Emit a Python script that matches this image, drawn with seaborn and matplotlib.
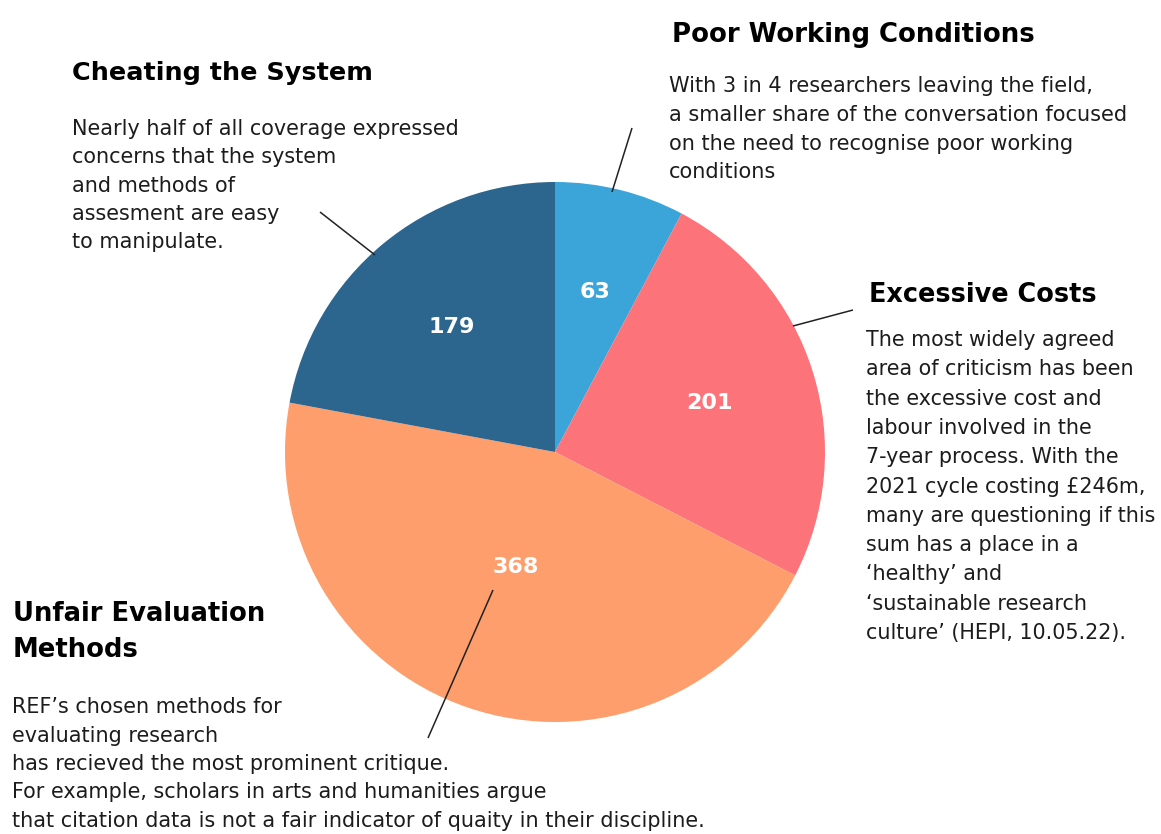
import matplotlib
matplotlib.use("Agg")
import matplotlib.pyplot as plt
import numpy as np
import seaborn as sns

# Coverage counts per criticism theme (clockwise from the top)
themes = ["Poor Working Conditions", "Excessive Costs",
          "Unfair Evaluation Methods", "Cheating the System"]
counts = [63, 201, 368, 179]
colors = ["#3ba5da", "#fc7379", "#fd9e6c", "#2c668e"]

W, H = 1161, 834
sns.set_theme(style="white")
plt.rcParams["font.family"] = ["DejaVu Sans"]

fig = plt.figure(figsize=(W / 100, H / 100), dpi=100)
ax = fig.add_axes([0, 0, 1, 1])

cx, cy, R = 555, 452, 270
wedges, _ = ax.pie(counts, colors=sns.color_palette(colors), startangle=-90,
                   counterclock=True, center=(cx, cy), radius=R,
                   wedgeprops=dict(linewidth=0))
ax.set_xlim(0, W)
ax.set_ylim(H, 0)
ax.set_aspect("equal")
ax.axis("off")

# value labels inside the wedges
label_dist = [0.61, 0.60, 0.45, 0.60]
for w, v, d in zip(wedges, counts, label_dist):
    mid = np.deg2rad((w.theta1 + w.theta2) / 2)
    ax.text(cx + d * R * np.cos(mid), cy + d * R * np.sin(mid), str(v),
            color="white", fontsize=16, fontweight="bold",
            ha="center", va="center")

fig.canvas.draw()
renderer = fig.canvas.get_renderer()


def block(x, y0, lines, width, step=28.7, bold=False, size=14):
    """Left-aligned lines on fixed baselines, sized so the widest line spans `width` px."""
    arts = [ax.text(x, y0 + i * step, s, fontsize=size, ha="left",
                    va="baseline", color="#000000" if bold else "#1c1c1c",
                    fontweight="bold" if bold else "normal")
            for i, s in enumerate(lines)]
    widest = max(a.get_window_extent(renderer).width for a in arts)
    for a in arts:
        a.set_fontsize(size * width / widest)


# headings
block(72, 80, ["Cheating the System"], 301, bold=True)
block(672, 42, ["Poor Working Conditions"], 364, bold=True)
block(869, 302, ["Excessive Costs"], 228, bold=True)
block(13, 621, ["Unfair Evaluation", "Methods"], 253, step=36, bold=True)

# descriptions
block(72, 135, ["Nearly half of all coverage expressed",
                "concerns that the system",
                "and methods of",
                "assesment are easy",
                "to manipulate."], 388, step=28.3)
block(669, 92, ["With 3 in 4 researchers leaving the field,",
                "a smaller share of the conversation focused",
                "on the need to recognise poor working",
                "conditions"], 459, step=28.8)
block(866, 346, ["The most widely agreed",
                 "area of criticism has been",
                 "the excessive cost and",
                 "labour involved in the",
                 "7-year process. With the",
                 "2021 cycle costing £246m,",
                 "many are questioning if this",
                 "sum has a place in a",
                 "\u2018healthy\u2019 and",
                 "\u2018sustainable research",
                 "culture\u2019 (HEPI, 10.05.22)."], 290, step=29.3)
block(12, 713, ["REF\u2019s chosen methods for",
                "evaluating research",
                "has recieved the most prominent critique.",
                "For example, scholars in arts and humanities argue",
                "that citation data is not a fair indicator of quaity in their discipline."],
      695, step=28.5)

# leader lines from the notes to their wedges
leaders = [((320, 212), (375, 255)),
           ((632, 128), (612, 192)),
           ((853, 310), (793, 326)),
           ((493, 590), (428, 738))]
for (x0, y0), (x1, y1) in leaders:
    ax.plot([x0, x1], [y0, y1], color="#222222", lw=1.1, solid_capstyle="butt")

fig.savefig("out.png", dpi=100, facecolor="white")
